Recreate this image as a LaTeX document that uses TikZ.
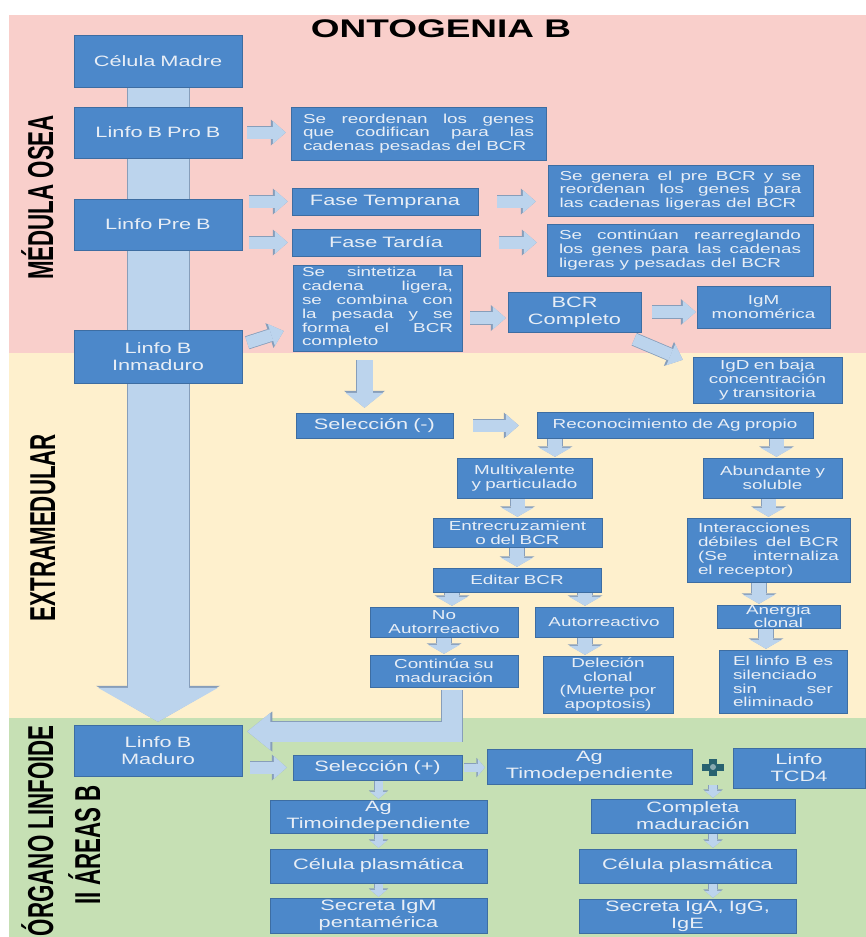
\documentclass[tikz,border=0pt]{standalone}
\usepackage{fontspec}
\setmainfont[FakeStretch=1.45]{Liberation Sans}
\newfontfamily\sidefont[FakeStretch=0.62]{Liberation Sans}
\usepackage{tikz}
\usetikzlibrary{arrows.meta, shapes, positioning, backgrounds}

\definecolor{pinkzone}{RGB}{249,207,203}
\definecolor{creamzone}{RGB}{254,240,205}
\definecolor{greenzone}{RGB}{198,224,180}
\definecolor{boxblue}{RGB}{76,136,202}
\definecolor{boxtext}{RGB}{232,238,246}
\definecolor{arrowfill}{RGB}{188,212,237}
\definecolor{arrowedge}{RGB}{135,158,186}
\definecolor{plusteal}{RGB}{40,98,112}

\begin{document}
\begin{tikzpicture}[x=1pt,y=-1pt,
  blue box/.style={draw=boxblue!80!black, line width=0.5pt, fill=boxblue, text=boxtext,
    inner xsep=6pt, inner ysep=0pt, align=center, font=\fontsize{13}{13.8}\selectfont},
  big text/.style={font=\fontsize{15}{17}\selectfont},
  side label/.style={rotate=90, inner sep=0pt, font=\sidefont\bfseries\fontsize{36}{36}\selectfont},
  fat arrow/.style={draw=arrowfill, line width=12pt, line join=miter,
    -{Triangle[width=23pt,length=13pt,line width=0pt]},
    preaction={draw=arrowedge, line width=13.6pt, -{Triangle[width=26pt,length=15pt,line width=0pt]}}},
  small arrow/.style={draw=arrowfill, line width=14pt, shorten <=1pt, shorten >=1pt,
    -{Triangle[width=32pt,length=9pt,line width=0pt]},
    preaction={draw=arrowedge, line width=15.6pt, -{Triangle[width=35pt,length=10.5pt,line width=0pt]}}},
  tiny arrow/.style={draw=arrowfill, line width=8pt, shorten <=1pt, shorten >=1pt,
    -{Triangle[width=17pt,length=7pt,line width=0pt]},
    preaction={draw=arrowedge, line width=9.4pt, -{Triangle[width=19.5pt,length=8.3pt,line width=0pt]}}},
  down arrow/.style={draw=arrowfill, line width=16pt,
    -{Triangle[width=38pt,length=15pt,line width=0pt]},
    preaction={draw=arrowedge, line width=17.6pt, -{Triangle[width=41pt,length=17pt,line width=0pt]}}},
  elbow arrow/.style={draw=arrowfill, line width=20pt, line join=miter,
    -{Triangle[width=37pt,length=23pt,line width=0pt]},
    preaction={draw=arrowedge, line width=21.6pt, line join=miter, -{Triangle[width=40pt,length=25pt,line width=0pt]}}},
  big arrow/.style={draw=arrowfill, line width=61pt,
    -{Triangle[width=120pt,length=34pt,line width=0pt]},
    preaction={draw=arrowedge, line width=63pt, -{Triangle[width=124pt,length=36pt,line width=0pt]}}}]

  \useasboundingbox (0,0) rectangle (866,937);
  % zones
  \begin{scope}[on background layer]
    \fill[pinkzone] (9,15) rectangle (866,353);
    \fill[creamzone] (9,353) rectangle (866,718);
    \fill[greenzone] (9,718) rectangle (866,937);
  \end{scope}

  \node[font=\fontsize{25.5}{26}\selectfont\bfseries] (title) at (441,29) {ONTOGENIA B};
  \node[side label, anchor=base] (medula) at (53,197.5) {MÉDULA OSEA};
  \node[side label, anchor=base] (extra) at (55,527.5) {EXTRAMEDULAR};
  \node[side label, anchor=base east] (organo) at (53,725) {ÓRGANO LINFOIDE};
  \node[side label, anchor=base east] (areas) at (100,785) {II ÁREAS B};

  % medula osea
  \node[blue box, big text, text width=156pt, minimum height=52pt] (madre) at (158,61) {Célula Madre};
  \node[blue box, big text, text width=156pt, minimum height=51pt] (prob) at (158,132.5) {Linfo B Pro B};
  \node[blue box, big text, text width=156pt, minimum height=51pt] (preb) at (158,224.5) {Linfo Pre B};
  \node[blue box, big text, text width=156pt, minimum height=53pt] (inmad) at (158,356.5) {Linfo B\\Inmaduro};
  \node[blue box, text width=231pt, inner xsep=12pt, align=justify, minimum height=53pt] (reord) at (418.5,133.5)
    {Se reordenan los genes\linebreak que codifican para las\linebreak cadenas pesadas del BCR};
  \node[blue box, big text, text width=174pt, minimum height=27pt] (fasete) at (385,201.5) {Fase Temprana};
  \node[blue box, big text, text width=176pt, minimum height=27pt] (faseta) at (386,242.5) {Fase Tardía};
  \node[blue box, text width=242pt, inner xsep=11.5pt, align=justify, minimum height=51pt] (segen) at (680.5,190.5)
    {Se genera el pre BCR y se\linebreak reordenan los genes para\linebreak las cadenas ligeras del BCR};
  \node[blue box, text width=242pt, inner xsep=12pt, align=justify, minimum height=52pt] (secont) at (680,250)
    {Se continúan rearreglando\linebreak los genes para las cadenas\linebreak ligeras y pesadas del BCR};
  \node[blue box, text width=151pt, inner xsep=9pt, align=justify, minimum height=86pt] (sint) at (377.5,308)
    {Se sintetiza la\linebreak cadena ligera,\linebreak se combina con\linebreak la pesada y se\linebreak forma el BCR\linebreak completo};
  \node[blue box, big text, text width=121pt, minimum height=40pt] (bcr) at (574.5,312) {BCR\\Completo};
  \node[blue box, text width=121pt, minimum height=42pt] (igm) at (763.5,307) {IgM\\monomérica};
  \node[blue box, text width=137pt, minimum height=46pt] (igd) at (767.5,380) {IgD en baja\\concentración\\y transitoria};

  % extramedular
  \node[blue box, big text, text width=145pt, minimum height=25pt] (selm) at (374.5,425.5) {Selección (-)};
  \node[blue box, text width=264pt, minimum height=26pt] (recon) at (675,425) {Reconocimiento de Ag propio};
  \node[blue box, text width=123pt, minimum height=40pt] (multi) at (524.5,478) {Multivalente\\y particulado};
  \node[blue box, text width=127pt, minimum height=40pt] (abund) at (772.5,478) {Abundante y\\soluble};
  \node[blue box, text width=157pt, minimum height=29pt] (entre) at (517.5,532.5) {Entrecruzamient\\o del BCR};
  \node[blue box, text width=156pt, minimum height=24pt] (editar) at (517,580) {Editar BCR};
  \node[blue box, text width=136pt, minimum height=30pt] (noauto) at (444,622) {No\\Autorreactivo};
  \node[blue box, text width=126pt, minimum height=30pt] (auto) at (604,622) {Autorreactivo};
  \node[blue box, text width=136pt, minimum height=32pt] (cont) at (444,671) {Continúa su\\maduración};
  \node[blue box, text width=118pt, minimum height=57pt] (delec) at (608,684.5) {Deleción\\clonal\\(Muerte por\\apoptosis)};
  \node[blue box, text width=141pt, inner xsep=11pt, align=justify, minimum height=64pt] (inter) at (768.5,550)
    {Interacciones\linebreak débiles del BCR\linebreak (Se internaliza\linebreak el receptor)};
  \node[blue box, text width=111pt, minimum height=23pt, font=\fontsize{13}{12}\selectfont] (anerg) at (778.5,616.5) {Anergia\\clonal};
  \node[blue box, text width=100pt, inner xsep=14pt, align=justify, minimum height=63pt] (silen) at (783,681.5)
    {El linfo B es\linebreak silenciado\linebreak sin ser\linebreak eliminado};

  % organo linfoide
  \node[blue box, big text, text width=156pt, minimum height=51pt] (maduro) at (158,750.5) {Linfo B\\Maduro};
  \node[blue box, big text, text width=157pt, minimum height=25pt] (selp) at (377.5,767.5) {Selección (+)};
  \node[blue box, big text, text width=193pt, minimum height=35pt] (agdep) at (589.5,766.5) {Ag\\Timodependiente};
  \node[blue box, big text, text width=120pt, minimum height=40pt] (tcd) at (799,768) {Linfo\\TCD4};
  \node[blue box, big text, text width=205pt, minimum height=33pt] (agind) at (378.5,816.5) {Ag\\Timoindependiente};
  \node[blue box, big text, text width=205pt, minimum height=34pt] (cell) at (378.5,866) {Célula plasmática};
  \node[blue box, big text, text width=205pt, minimum height=35pt] (secl) at (378.5,915.5) {Secreta IgM\\pentamérica};
  \node[blue box, big text, text width=192pt, minimum height=34pt] (comp) at (693,816) {Completa\\maduración};
  \node[blue box, big text, text width=205pt, minimum height=34pt] (celr) at (687.5,866) {Célula plasmática};
  \node[blue box, big text, text width=205pt, minimum height=34pt] (secr) at (687.5,916) {Secreta IgA, IgG,\\IgE};

  \coordinate (plus) at (713,767);
  \fill[plusteal] ([xshift=-11pt,yshift=-3.5pt]plus) rectangle ([xshift=11pt,yshift=3.5pt]plus);
  \fill[plusteal] ([xshift=-4pt,yshift=-8.5pt]plus) rectangle ([xshift=4pt,yshift=8.5pt]plus);
  \fill[plusteal!55!white] (plus) circle (3pt);

  % big arrow behind the left column
  \begin{scope}[on background layer]
    \draw[big arrow, shorten >=3pt] (madre.south) -- (maduro.north);
  \end{scope}

  \draw[fat arrow, shorten <=5pt, shorten >=5pt] (prob.east) -- (reord.west |- prob.east);
  \draw[fat arrow, shorten <=7pt, shorten >=4pt] (preb.east |- fasete.west) -- (fasete.west);
  \draw[fat arrow, shorten <=7pt, shorten >=4pt] (preb.east |- faseta.west) -- (faseta.west);
  \draw[fat arrow, shorten <=19pt, shorten >=12pt] (fasete.east) -- (segen.west |- fasete.east);
  \draw[fat arrow, shorten <=19pt, shorten >=10pt] (faseta.east) -- (secont.west |- faseta.east);
  \draw[fat arrow] ([xshift=5pt,yshift=-13pt]inmad.north east) -- ([xshift=-9pt,yshift=-23pt]sint.west);
  \draw[fat arrow, shorten <=8pt, shorten >=2pt] ([yshift=-10pt]sint.east) -- ([yshift=-10pt]sint.east -| bcr.west);
  \draw[fat arrow, shorten <=11pt, shorten >=1pt] (bcr.east) -- (bcr.east -| igm.west);
  \draw[fat arrow] ([xshift=-7pt,yshift=-7pt]bcr.south east) -- ([xshift=-10pt,yshift=-3pt]igd.north west);
  \draw[down arrow, shorten <=9pt, shorten >=5pt] ([xshift=-13pt]sint.south) -- ([xshift=-13pt]sint.south |- selm.north);
  \draw[fat arrow, shorten <=20pt, shorten >=18pt] (selm.east) -- (recon.west |- selm.east);
  \foreach \s/\t/\d in {recon/multi/30.5, recon/abund/4, multi/entre/0, entre/editar/0,
      editar/noauto/8, editar/auto/-19, noauto/cont/0, auto/delec/-23,
      abund/inter/0, inter/anerg/-19.5, anerg/silen/-17}
    {\draw[small arrow] ([xshift=\d pt]\t.north |- \s.south) -- ([xshift=\d pt]\t.north);}
  \draw[elbow arrow, shorten <=3pt, shorten >=5pt] ([xshift=8pt]cont.south) |- ([yshift=19pt]maduro.east);

  \draw[fat arrow, shorten <=8pt, shorten >=6pt] (maduro.east |- selp.west) -- (selp.west);
  \draw[tiny arrow, shorten <=2pt, shorten >=2pt] (selp.east) -- (agdep.west |- selp.east);
  \foreach \s/\t in {selp/agind, agind/cell, cell/secl}
    {\draw[tiny arrow] (\t.north |- \s.south) -- (\t.north);}
  \draw[tiny arrow] (plus |- agdep.south) -- (plus |- comp.north);
  \draw[tiny arrow] (plus |- comp.south) -- (plus |- celr.north);
  \draw[tiny arrow] (plus |- celr.south) -- (plus |- secr.north);
\end{tikzpicture}
\end{document}
